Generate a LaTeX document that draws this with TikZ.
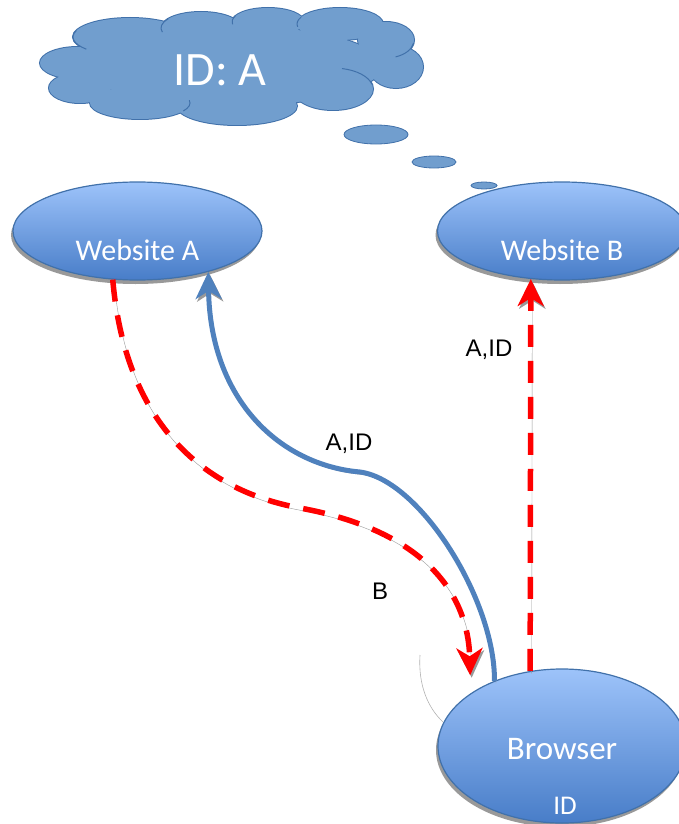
\documentclass[tikz,border=0pt]{standalone}
\usepackage{fontspec}
\setmainfont{Carlito}
\newfontfamily\labelfont{Liberation Sans}
\usetikzlibrary{arrows.meta,positioning,shapes.geometric,shadows}
\definecolor{skyfill}{RGB}{113,158,206}
\definecolor{skyline}{RGB}{65,113,170}
\definecolor{nodetop}{RGB}{157,195,250}
\definecolor{nodebottom}{RGB}{72,125,200}
\definecolor{flowblue}{RGB}{79,129,189}
\definecolor{flowred}{RGB}{255,0,0}

\begin{document}
\begin{tikzpicture}[x=1pt, y=-1pt,
    site/.style={ellipse, draw=skyline, line width=1.2pt,
        top color=nodetop, bottom color=nodebottom, inner sep=0pt,
        minimum width=249pt, minimum height=98pt,
        drop shadow={shadow xshift=-2pt, shadow yshift=-4pt, fill=gray!80, opacity=1}},
    sitetext/.style={text=white, font=\fontsize{30}{36}\selectfont},
    bubble/.style={ellipse, draw=skyline, fill=skyfill, line width=0.8pt, inner sep=0pt},
    lbl/.style={font=\labelfont\fontsize{24}{28}\selectfont, inner sep=0pt},
    tip/.style={-{Stealth[length=27pt, width=26pt, inset=8pt]}},
    shade/.style={preaction={draw=gray!80, transform canvas={shift={(1.5pt,-2.5pt)}}}},
    bluepath/.style={tip, shade, draw=flowblue, line width=5pt},
    redpath/.style={tip, shade, draw=flowred, line width=5.5pt, dash pattern=on 22pt off 14pt},
]
\useasboundingbox (0,0) rectangle (679,824);

% Thought cloud: outlined lobes, filled over, a few inner arcs
\def\lobes{78/63/38/16, 80/88/31/15, 130/37/57/19, 201/28/40/16, 268/22/36/14,
    340/24/43/16, 386/40/28/18, 396/67/27/21, 333/89/40/21, 237/106/60/19,
    140/103/50/16, 232/66/150/40}
\foreach \cx/\cy/\rx/\ry in \lobes
    \draw[skyline, line width=2pt] (\cx,\cy) ellipse[x radius=\rx, y radius=\ry];
\foreach \cx/\cy/\rx/\ry in \lobes
    \fill[skyfill] (\cx,\cy) ellipse[x radius=\rx, y radius=\ry];
\foreach \cx/\cy/\rx/\ry/\sa/\ea in {333/89/40/21/-77/-13, 130/37/57/19/200/140,
    386/40/28/18/10/70, 140/103/50/16/-10/30, 201/28/40/16/165/215,
    268/22/36/14/170/205, 340/24/43/16/170/205}
    \draw[skyline, line width=1pt] (\cx,\cy) ++(\sa:\rx pt and -\ry pt)
        arc[start angle=\sa, end angle=\ea, x radius=\rx, y radius=\ry];
\node[text=white, font=\fontsize{48}{56}\selectfont] (thoughttext) at (220,70) {ID: A};
\foreach \name/\cx/\cy/\w/\h in {bubbleA/376/134.5/64/19, bubbleB/434/162/44/12, bubbleC/484/185.5/26/7}
    \node[bubble, minimum width=\w pt, minimum height=\h pt] (\name) at (\cx,\cy) {};

% Websites and browser
\node[site] (websiteA) at (137.5,231) {};
\node[sitetext] (websiteAtext) at (137.5,250) {Website A};
\node[site] (websiteB) at (562,231) {};
\node[sitetext] (websiteBtext) at (562,250) {Website B};
\node[site, minimum width=248pt, minimum height=154pt] (browser) at (562,746) {};
\node[sitetext, font=\fontsize{33}{40}\selectfont] (browsertext) at (562,749) {Browser};
\node[sitetext, font=\fontsize{27}{32}\selectfont] (browserid) at (565,806) {ID};

% Faint arc left of browser
\draw[gray!60, line width=0.6pt] (420,655) .. controls (418,685) and (428,708) .. (443,722);

% Requests
\draw[bluepath] (browser.136) .. controls (495,600) and (420,480) .. (360,472)
    .. controls (280,465) and (210,400) .. (websiteA.-30.5);
\draw[redpath, shorten >=18pt] (websiteA.-117.5) .. controls (125,420) and (200,490) .. (300,508)
    .. controls (420,530) and (468,590) .. (browser.150);
\draw[redpath] (browser.113) -- (websiteB.-123);

% Labels
\node[lbl] (labelAIDone) at (349,444) {A,ID};
\node[lbl] (labelAIDtwo) at (489,350) {A,ID};
\node[lbl] (labelB) at (380,591) {B};

\end{tikzpicture}
\end{document}
